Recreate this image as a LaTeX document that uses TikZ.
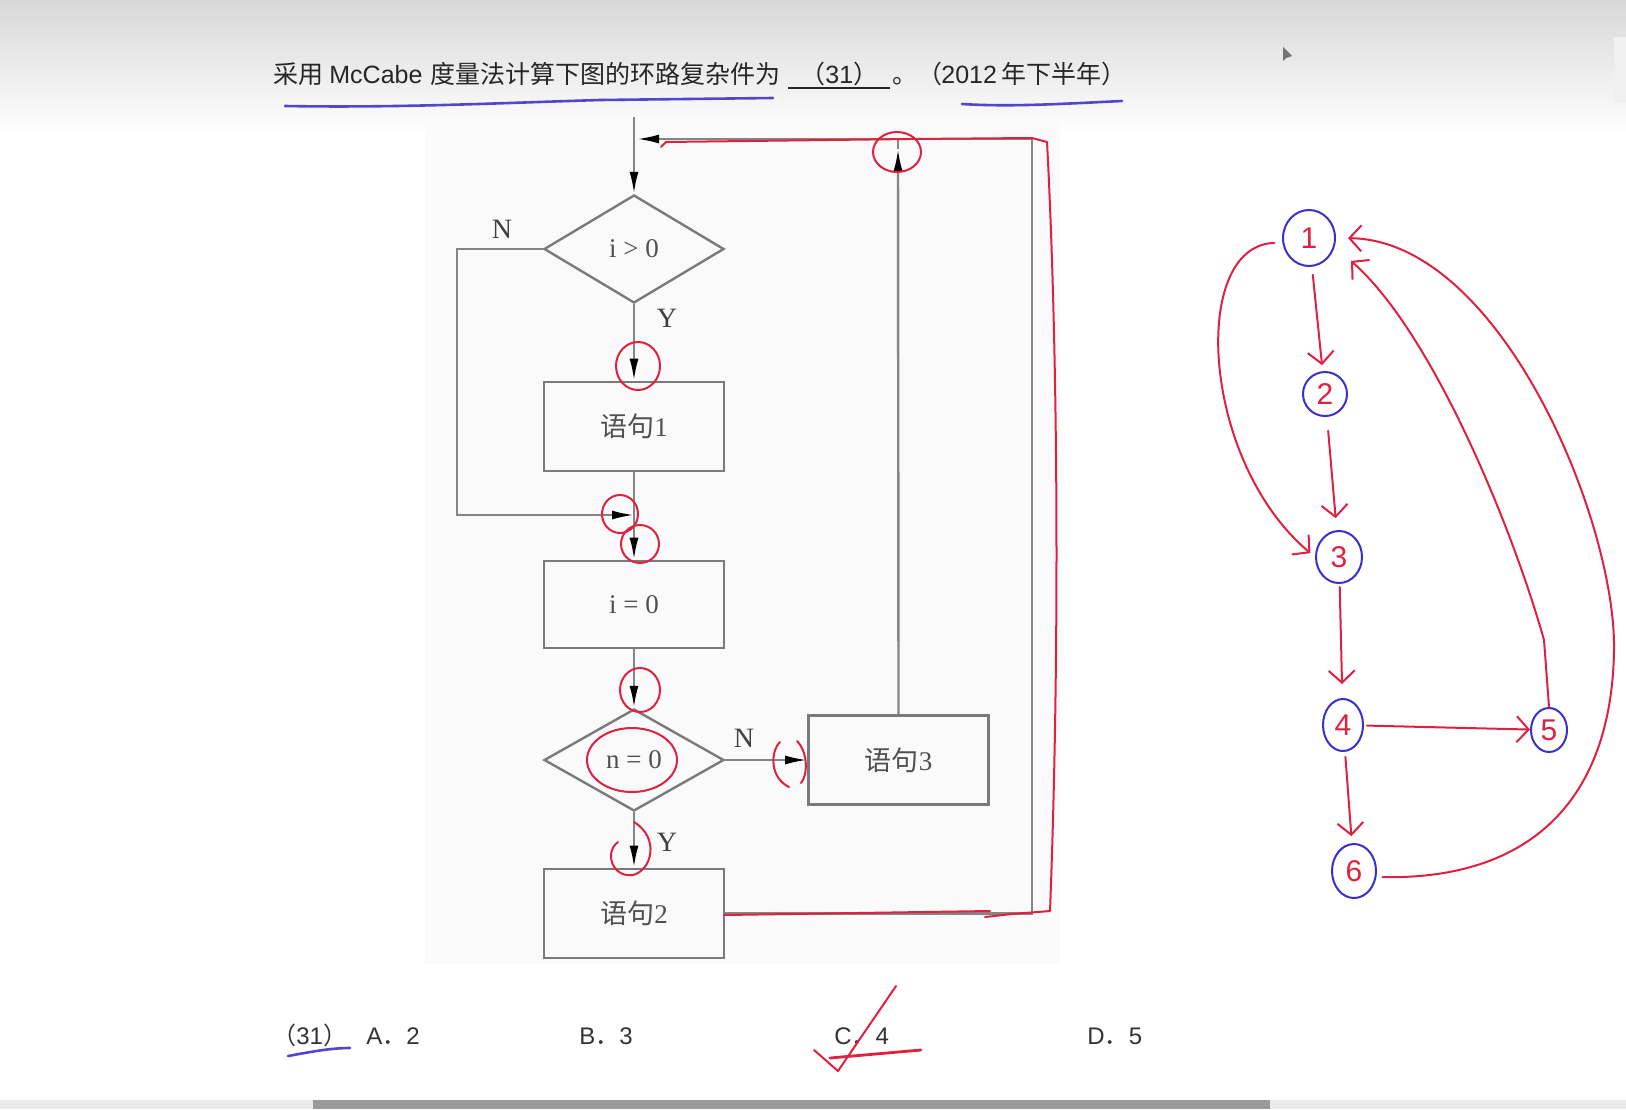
\documentclass[tikz,border=0pt]{standalone}
\usepackage{fontspec}
\setmainfont{Liberation Sans}
\newfontfamily\cjk{Noto Sans CJK SC}
\newfontfamily\tms{Liberation Serif}
\usetikzlibrary{shapes.geometric,arrows.meta}
\definecolor{flgray}{HTML}{858585}
\definecolor{boxgray}{HTML}{7A7A7A}
\definecolor{ftext}{HTML}{505050}
\definecolor{redc}{HTML}{E0203F}
\definecolor{bluec}{HTML}{3A2FCC}
\definecolor{ulblue}{HTML}{5544CC}
\definecolor{topgray}{HTML}{D8D8D8}
\definecolor{panel}{HTML}{FAFAFA}
\definecolor{track}{HTML}{EAEAEA}
\definecolor{thumb}{HTML}{9A9A9A}
\begin{document}
\begin{tikzpicture}[x=0.5pt,y=-0.5pt,
 fl/.style={draw=flgray,line width=1.2pt},
 arr/.style={fl,-{Latex[length=11pt,width=4.5pt,color=black]}},
 box/.style={draw=boxgray,line width=1.4pt,minimum width=90pt,minimum height=44.5pt,inner sep=0pt,text=ftext,font=\fontsize{13.5}{14}\selectfont},
 dia/.style={diamond,draw=boxgray,line width=1.2pt,minimum width=90pt,minimum height=54pt,inner sep=0pt,text=ftext,font=\tms\fontsize{13.5}{14}\selectfont},
 lbl/.style={text=black!75,font=\tms\fontsize{14}{15}\selectfont,inner sep=0pt},
 redl/.style={draw=redc,line width=1pt,line cap=round,line join=round},
 gnode/.style={ellipse,draw=bluec,line width=1pt,inner sep=0pt,text=redc,font=\fontsize{15}{16}\selectfont},
 garr/.style={redl,-{Straight Barb[length=6pt,width=13pt]}},
 ttl/.style={anchor=base west,inner sep=0pt,text=black!85,font=\fontsize{12.5}{13}\selectfont},
 opt/.style={anchor=base west,inner sep=0pt,text=black!80,font=\fontsize{12}{13}\selectfont},
]
\useasboundingbox (0,0) rectangle (1626,1109);
\fill[white] (0,0) rectangle (1626,1109);
\shade[top color=topgray,bottom color=white] (0,0) rectangle (1626,135);
\fill[panel] (425,124) rectangle (1060,964);
\fill[black!6] (1614,37) rectangle (1626,103);
\fill[track] (0,1100) rectangle (1626,1109);
\fill[thumb] (313,1100) rectangle (1270,1109);
\fill[black!55] (1283,47) -- (1283,61) -- (1286,58) -- (1292,56) -- cycle;

% title
\node[ttl] (t1) at (273,83) {\cjk 采用};
\node[ttl] (t2) at (329,83) {McCabe};
\node[ttl] (t3) at (430,83) {\cjk 度量法计算下图的环路复杂件为};
\node[ttl] (t4) at (800,83) {{\cjk （}31{\cjk ）}};
\draw[black!85,line width=0.8pt] (788,88) -- (890,88);
\node[ttl] (t5) at (892,83) {\cjk 。（};
\node[ttl] (t6) at (941,83) {2012};
\node[ttl] (t7) at (1001,83) {\cjk 年下半年）};
\draw[ulblue,line width=1.3pt,line cap=round] (285,106) .. controls (400,108) and (500,103) .. (600,100) -- (773,98);
\draw[ulblue,line width=1.3pt,line cap=round] (962,104) .. controls (1010,107) and (1060,104) .. (1122,101);

% flowchart
\node[dia] (d1) at (634,249) {i > 0};
\node[box] (s1) at (634,426.5) {{\cjk 语句}{\tms 1}};
\node[box,minimum height=43.5pt] (a0) at (634,604.5) {\tms i = 0};
\node[dia,minimum height=51pt] (d2) at (634,760) {n = 0};
\node[box] (s3) at (898.5,760) {{\cjk 语句}{\tms 3}};
\node[box] (s2) at (634,913.5) {{\cjk 语句}{\tms 2}};
\coordinate (top) at (634,117);
\coordinate (jtip) at (637,139);
\coordinate (nl1) at (457,249);
\coordinate (nl2) at (457,515);
\coordinate (mg) at (634,515);
\coordinate (fb1) at (1032,913.5);
\coordinate (fb2) at (1032,139);
\coordinate (up1) at (898,139);
\coordinate (uptip) at (898,149);
\draw[arr] (top) -- (d1.north);
\draw[arr] (d1.south) -- (s1.north);
\draw[arr] (d1.west) -- (nl1) -- (nl2) -- (mg);
\draw[fl] (s1.south) -- (mg);
\draw[arr] (mg) -- (a0.north);
\draw[arr] (a0.south) -- (d2.north);
\draw[arr] (d2.east) -- (s3.west);
\draw[arr] (d2.south) -- (s2.north);
\draw[arr] (s2.east) -- (fb1) -- (fb2) -- (jtip);
\draw[arr] (s3.north) -- (uptip);
\draw[fl] (uptip) -- (up1);
\node[lbl] (ln1) at (502,229) {N};
\node[lbl] (ly1) at (667,318) {Y};
\node[lbl] (ln2) at (744,738) {N};
\node[lbl] (ly2) at (667,842) {Y};

% red annotations on flowchart
\draw[redl] (897,152) ellipse [x radius=24,y radius=20];
\draw[redl] (638,366) ellipse [x radius=22,y radius=24];
\draw[redl] (620,514) ellipse [x radius=18,y radius=19];
\draw[redl] (640,544) ellipse [x radius=19,y radius=19];
\draw[redl] (640,690) ellipse [x radius=20,y radius=22];
\draw[redl] (632,760) ellipse [x radius=45,y radius=32];
\draw[redl] (780,742) .. controls (770,752) and (770,778) .. (789,787);
\draw[redl] (797,741) .. controls (808,752) and (808,775) .. (801,783);
\draw[redl] (634,822) .. controls (660,838) and (652,870) .. (633,875) .. controls (612,878) and (604,852) .. (618,842);
\draw[redl] (661,147) -- (666,142) -- (910,139) -- (1032,138) -- (1047,142) .. controls (1058,350) and (1060,650) .. (1050,911) -- (1012,914) -- (985,917);
\draw[redl] (724,915) -- (990,911);

% graph
\node[gnode,minimum width=26pt,minimum height=28pt] (n1) at (1309,238) {1};
\node[gnode,minimum width=22pt,minimum height=22pt] (n2) at (1325,394) {2};
\node[gnode,minimum width=23pt,minimum height=26pt] (n3) at (1339,557) {3};
\node[gnode,minimum width=20pt,minimum height=26pt] (n4) at (1343,725) {4};
\node[gnode,minimum width=18pt,minimum height=22pt] (n5) at (1549,730) {5};
\node[gnode,minimum width=22pt,minimum height=27pt] (n6) at (1354,871) {6};
\coordinate (c5a) at (1544,640);
\draw[garr,shorten <=4pt,shorten >=3pt] (n1) -- (n2);
\draw[garr,shorten <=7pt,shorten >=6pt] (n2) -- (n3);
\draw[garr,shorten <=1.5pt,shorten >=7pt] (n3) -- (n4);
\draw[garr,shorten <=2.5pt,shorten >=3.5pt] (n4) -- (n6);
\draw[garr,shorten <=1.5pt] (n4) -- (n5);
\draw[garr,shorten <=4pt,shorten >=3pt] (n1.190) .. controls (1190,245) and (1200,460) .. (n3.west);
\draw[garr] (n5.north) -- (c5a) .. controls (1510,520) and (1430,330) .. (1351,261);
\draw[garr,shorten <=3pt,shorten >=6pt] (n6.345) .. controls (1540,880) and (1612,790) .. (1614,650) .. controls (1616,520) and (1500,240) .. (n1.east);

% options
\node[opt] (q) at (272,1044) {{\cjk （}31{\cjk ）}};
\node[opt] (oa) at (366,1044) {A{\cjk ．}2};
\node[opt] (ob) at (579,1044) {B{\cjk ．}3};
\node[opt] (oc) at (834,1044) {C{\cjk ．}4};
\node[opt] (od) at (1087,1044) {D{\cjk ．}5};
\draw[ulblue,line width=1.3pt,line cap=round] (288,1056) .. controls (310,1052) and (330,1048) .. (350,1048);
\draw[redl] (814,1050) -- (838,1071) -- (896,986);
\draw[redl,line width=1.4pt] (830,1058) -- (921,1050);
\end{tikzpicture}
\end{document}
